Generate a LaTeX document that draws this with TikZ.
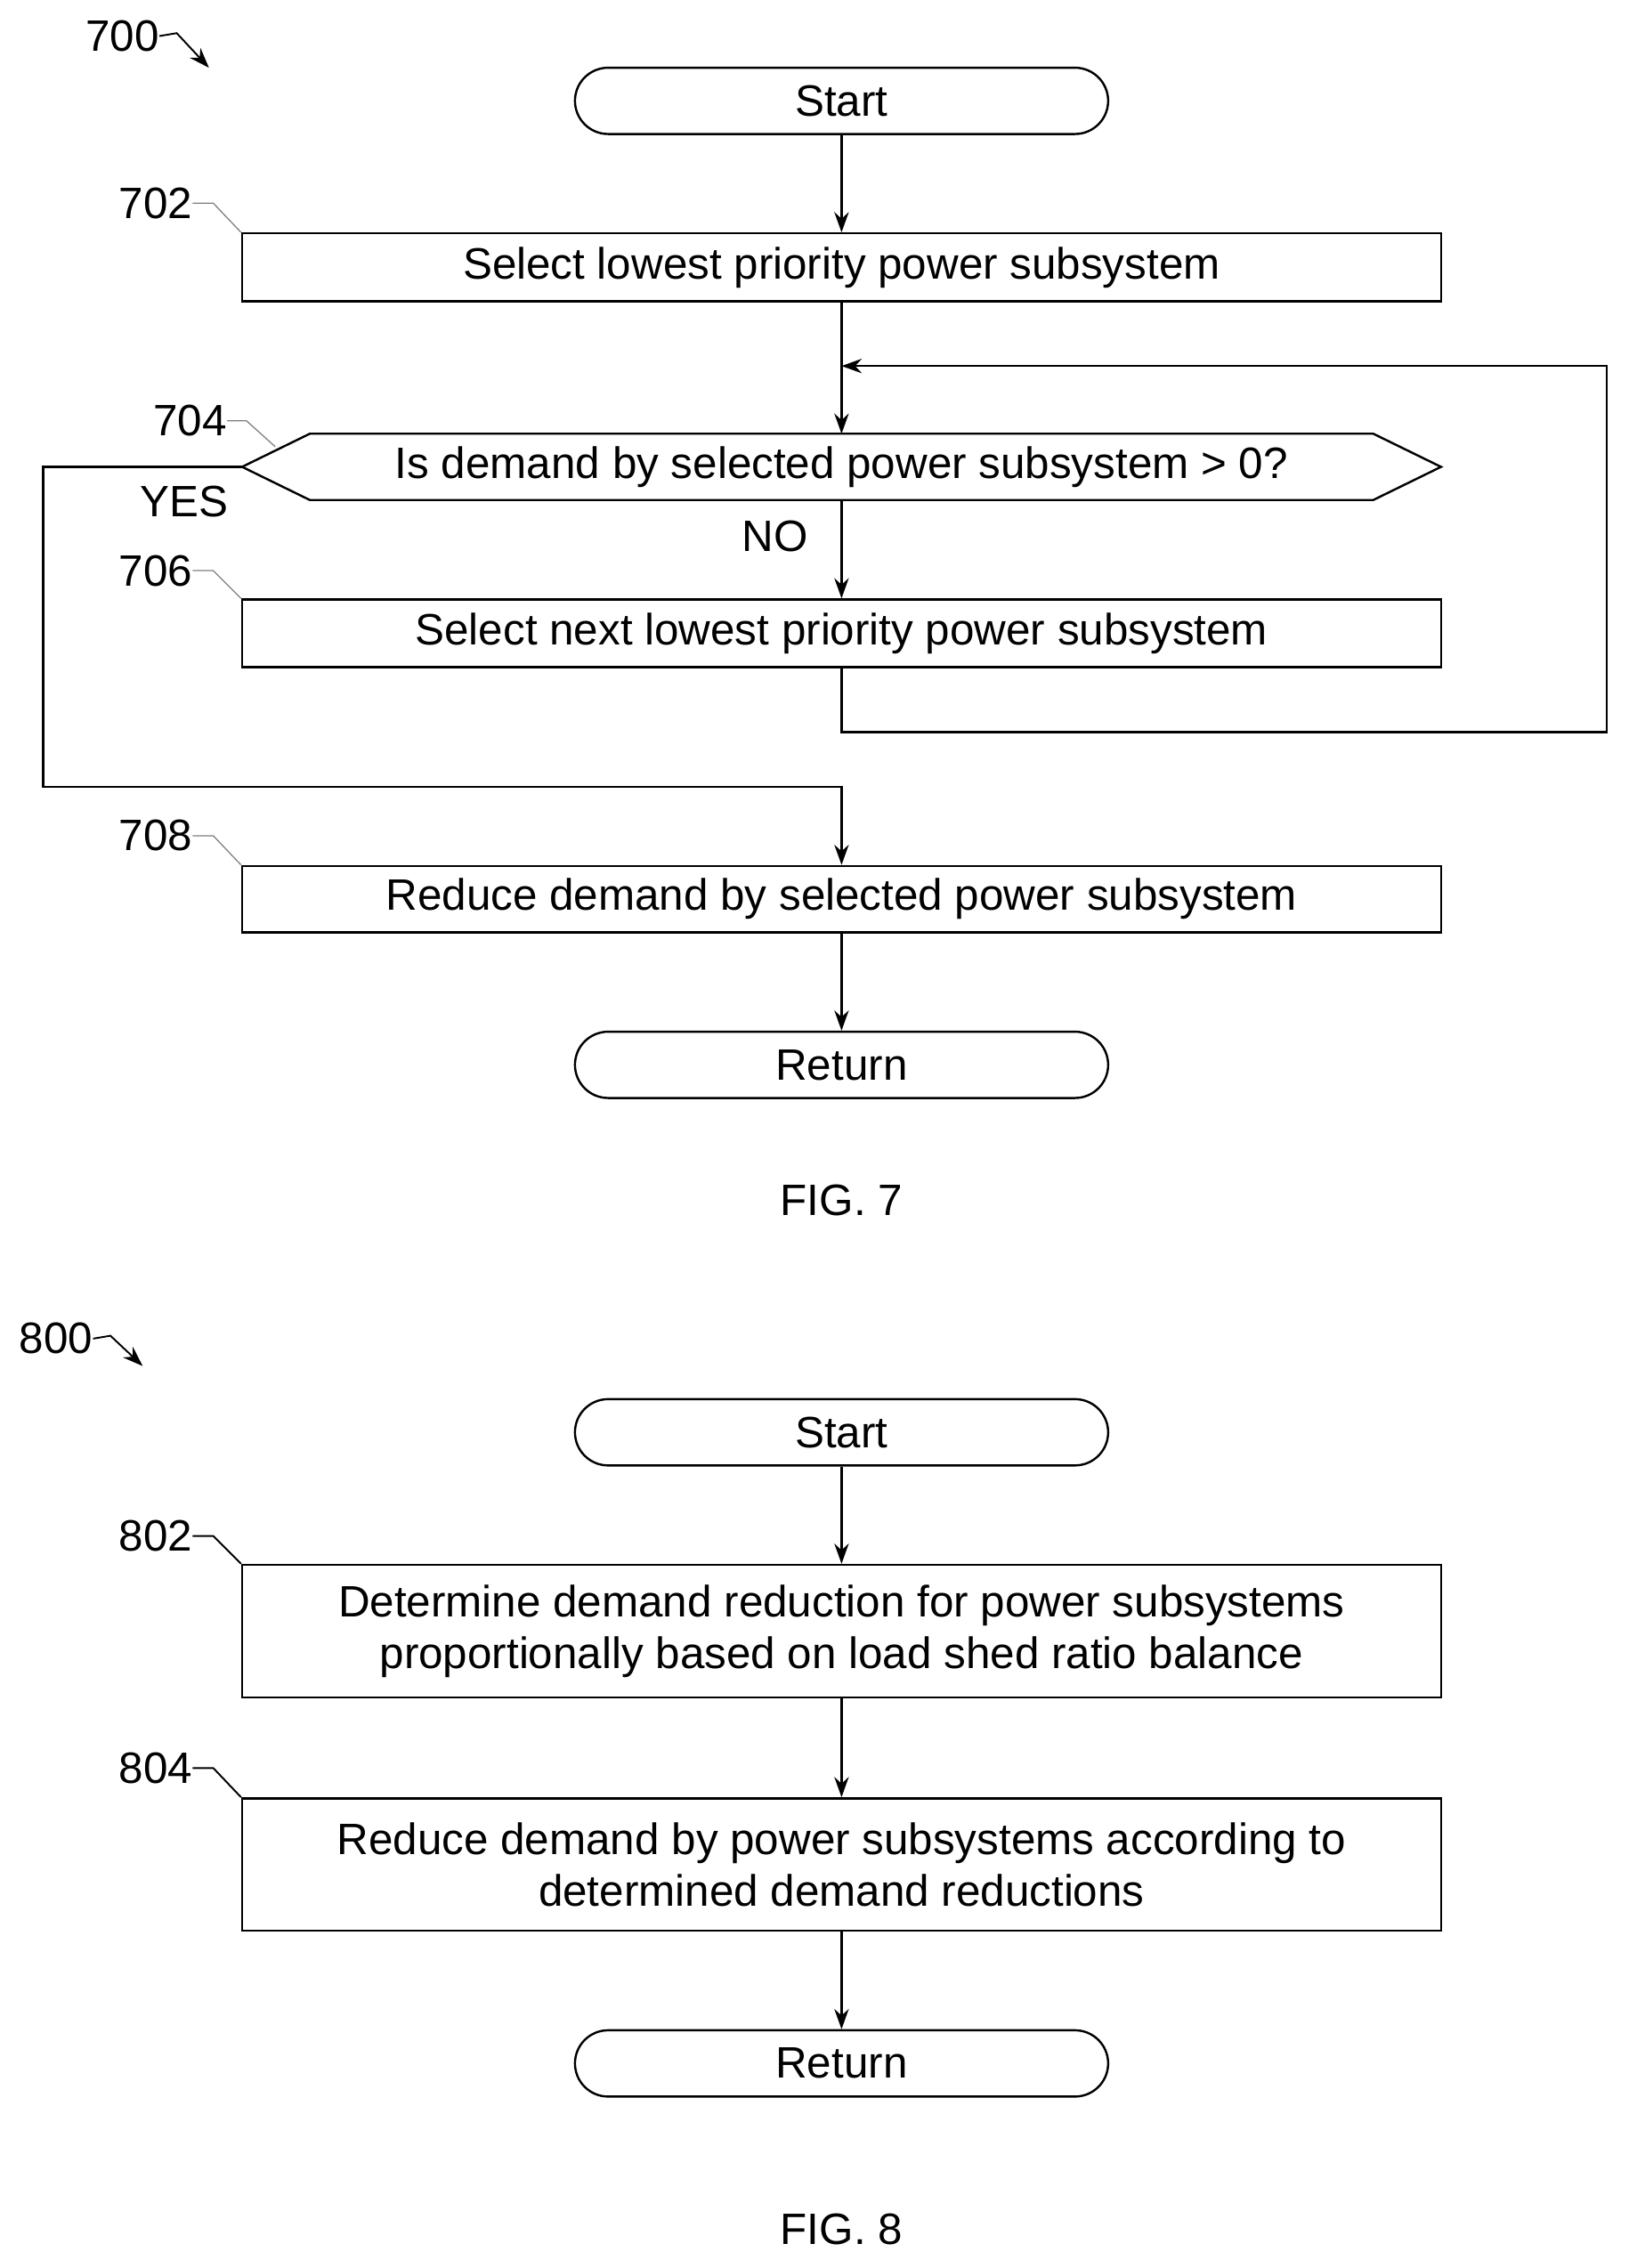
\documentclass[tikz,border=0pt]{standalone}
\usepackage{fontspec}
\setmainfont{Liberation Sans}
\usetikzlibrary{arrows.meta}
\begin{document}
\begin{tikzpicture}[x=1pt,y=-1pt,
  every node/.style={font=\fontsize{30.5}{36}\selectfont},
  box/.style={draw,line width=1.5pt,minimum width=832pt,inner sep=0pt,align=center},
  term/.style={draw,line width=1.5pt,rounded corners=23pt,minimum width=370pt,minimum height=46pt,inner sep=0pt},
  ln/.style={line width=1.5pt},
  arr/.style={ln,-{Stealth[length=14pt,width=10pt]}},
  lead/.style={gray,line width=0.8pt},
  lbl/.style={inner sep=0pt}]
\useasboundingbox (-3,-3) rectangle (1127,1571);
% FIG 7
\node[lbl] (n700) at (82,22) {700};
\coordinate (a700) at (142,44);
\draw[arr,line width=1.2pt] (n700.east) -- ++(12,-2) -- (a700);
\node[term] (s7) at (581,67) {Start};
\node[box,minimum height=47pt] (b702) at (581,182.5) {Select lowest priority power subsystem};
\node[lbl] (d704) at (581,321) {Is demand by selected power subsystem > 0?};
\coordinate (hl) at (165,321); \coordinate (hr) at (997,321);
\draw[ln] (hl) -- (212,298) -- (950,298) -- (hr) -- (950,344) -- (212,344) -- cycle;
\coordinate (dtop) at (581,298); \coordinate (dbot) at (581,344);
\node[box,minimum height=47pt] (b706) at (581,436.5) {Select next lowest priority power subsystem};
\node[box,minimum height=46pt] (b708) at (581,621) {Reduce demand by selected power subsystem};
\node[term] (r7) at (581,736) {Return};
\node[lbl] at (581,830) {FIG. 7};
\node[lbl] at (535,369) {NO};
\node[lbl] at (125,345) {YES};
\draw[arr] (s7) -- (b702);
\draw[arr] (b702) -- (dtop);
\draw[arr] (dbot) -- (b706);
\coordinate (lp) at (1112,251);
\draw[arr] (b706.south) -- (581,505) -- (1112,505) -- (lp) -- (581,251);
\draw[arr] (hl) -- (27,321) -- (27,543) -- (581,543) -- (b708.north);
\draw[arr] (b708) -- (r7);
% labels
\node[lbl] (n702) at (105,138) {702};
\draw[lead] (n702.east) -- (145,138) -- (b702.north west);
\node[lbl] (n704) at (129,289) {704};
\draw[lead] (n704.east) -- (168,289) -- (188,307);
\node[lbl] (n706) at (105,393) {706};
\draw[lead] (n706.east) -- (145,393) -- (b706.north west);
\node[lbl] (n708) at (105,577) {708};
\draw[lead] (n708.east) -- (145,577) -- (b708.north west);
% FIG 8
\node[lbl] (n800) at (36,926) {800};
\coordinate (a800) at (96,945);
\draw[arr,line width=1.2pt] (n800.east) -- ++(12,-2) -- (a800);
\node[term] (s8) at (581,991) {Start};
\node[box,minimum height=92pt] (b802) at (581,1129) {Determine demand reduction for power subsystems\\proportionally based on load shed ratio balance};
\node[box,minimum height=92pt] (b804) at (581,1291) {Reduce demand by power subsystems according to\\determined demand reductions};
\node[term] (r8) at (581,1429) {Return};
\node[lbl] at (581,1544) {FIG. 8};
\draw[arr] (s8) -- (b802);
\draw[arr] (b802) -- (b804);
\draw[arr] (b804) -- (r8);
\node[lbl] (n802) at (105,1063) {802};
\draw[ln,line width=1.2pt] (n802.east) -- (145,1063) -- (b802.north west);
\node[lbl] (n804) at (105,1224) {804};
\draw[ln,line width=1.2pt] (n804.east) -- (145,1224) -- (b804.north west);
\end{tikzpicture}
\end{document}
